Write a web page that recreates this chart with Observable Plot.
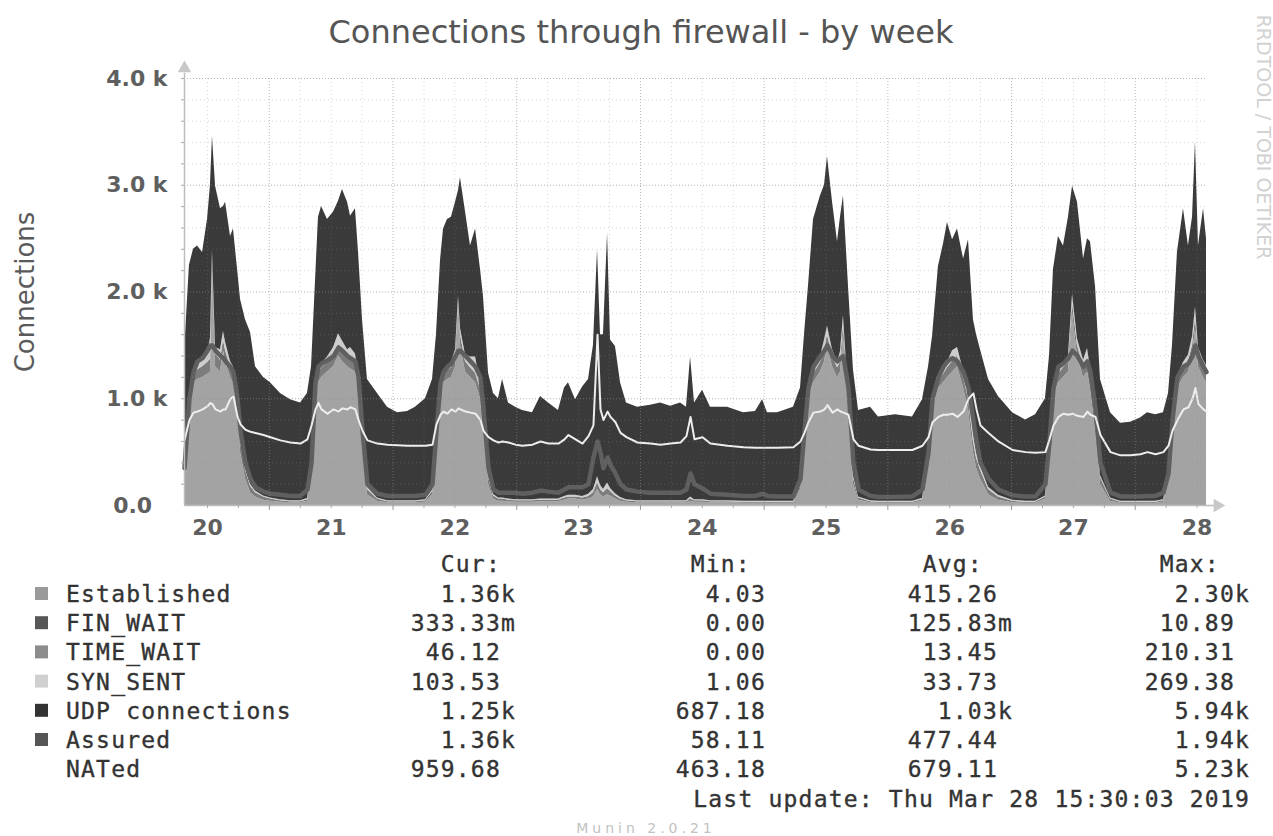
<!DOCTYPE html>
<html><head><meta charset="utf-8">
<script src="https://cdn.jsdelivr.net/npm/d3@7"></script>
<script src="https://cdn.jsdelivr.net/npm/@observablehq/plot@0.6"></script>
<style>
html,body{margin:0;padding:0;background:#fff;}
body{width:1273px;height:836px;position:relative;overflow:hidden;font-family:"DejaVu Sans",sans-serif;}
#chart{position:absolute;left:0;top:60px;}
#overlay{position:absolute;left:0;top:0;pointer-events:none;}
#chart g[aria-label="area"], #chart g[aria-label="line"]{filter:blur(0.6px);}
</style></head><body>
<div id="chart"></div>
<svg id="overlay" width="1273" height="836"></svg>
<script>
// time in days; integer = the day label position
const times = [19.814,19.854,19.887,19.919,19.960,20.000,20.024,20.040,20.065,20.105,
20.129,20.146,20.186,20.210,20.243,20.267,20.307,20.348,20.388,20.453,
20.509,20.590,20.671,20.752,20.808,20.841,20.873,20.897,20.922,20.970,
21.019,21.059,21.091,21.132,21.156,21.196,21.221,21.253,21.293,21.374,
21.455,21.536,21.617,21.681,21.762,21.819,21.851,21.884,21.908,21.940,
21.972,22.005,22.029,22.045,22.086,22.126,22.167,22.207,22.231,22.272,
22.312,22.352,22.385,22.433,22.490,22.546,22.627,22.692,22.757,22.837,
22.886,22.918,22.975,23.032,23.080,23.120,23.153,23.177,23.201,23.234,
23.258,23.298,23.339,23.387,23.476,23.581,23.662,23.743,23.824,23.872,
23.905,23.937,24.002,24.066,24.204,24.333,24.430,24.487,24.527,24.608,
24.737,24.794,24.826,24.858,24.899,24.955,24.988,25.012,25.053,25.093,
25.117,25.141,25.182,25.222,25.263,25.360,25.424,25.562,25.699,25.780,
25.829,25.861,25.909,25.950,25.982,26.023,26.063,26.112,26.152,26.192,
26.217,26.249,26.314,26.394,26.508,26.613,26.694,26.774,26.807,26.839,
26.879,26.920,26.960,26.993,27.033,27.082,27.114,27.138,27.179,27.219,
27.300,27.381,27.462,27.542,27.599,27.664,27.728,27.769,27.801,27.841,
27.890,27.930,27.963,27.987,28.011,28.052,28.076];

const established = [300,900,1150,1180,1200,1230,1250,2200,1300,1250,
1450,1350,1200,1150,900,500,250,120,80,50,
40,30,25,25,40,300,1000,1150,1200,1250,
1300,1400,1350,1300,1280,1250,1100,500,100,40,
25,25,25,25,30,100,600,1050,1150,1180,
1200,1300,1800,1500,1250,1200,1150,1000,700,200,
60,40,40,35,30,30,30,35,35,35,
50,60,60,50,60,80,150,100,80,100,
90,60,40,30,25,25,25,25,25,25,
40,30,30,25,25,20,20,20,20,20,
20,150,600,1000,1150,1250,1350,1500,1300,1200,
1250,1600,900,200,50,25,20,20,20,40,
400,900,1100,1150,1200,1250,1300,1100,900,500,
350,250,100,50,25,20,20,60,500,1000,
1150,1200,1250,1800,1400,1200,1250,1100,700,200,
40,20,20,20,20,20,30,200,700,1100,
1200,1250,1400,1650,1300,1200,1150];

const timeWait = [30,60,80,90,100,110,120,130,120,110,
100,100,100,100,100,90,80,60,40,30,
20,15,10,10,15,30,60,80,90,90,
100,110,110,100,100,90,90,80,50,20,
10,10,10,10,15,30,50,70,80,90,
90,100,100,100,100,90,90,90,80,60,
30,20,20,15,15,15,15,15,15,15,
20,20,20,20,25,40,60,50,40,60,
40,30,20,15,10,10,10,10,10,10,
20,15,15,10,10,10,10,10,10,10,
10,30,50,70,80,90,100,100,100,90,
90,100,90,60,20,10,10,10,10,15,
40,60,70,80,90,100,100,100,100,100,
90,80,50,30,15,10,10,20,40,60,
80,90,90,100,100,100,100,100,90,60,
20,10,10,10,10,10,15,30,50,70,
90,100,100,110,100,100,100];

const synSent = [20,30,40,50,60,80,200,60,60,100,
80,80,50,50,40,30,20,20,15,10,
10,10,10,10,10,20,30,40,40,50,
80,100,80,60,100,80,50,30,20,10,
10,10,10,10,10,15,20,30,40,40,
50,60,60,60,60,100,150,60,40,20,
15,10,10,10,10,10,10,10,10,10,
15,15,15,15,20,30,60,40,30,50,
30,20,15,10,10,10,10,10,10,10,
20,10,10,10,10,10,10,10,10,10,
10,15,20,30,40,50,100,80,60,50,
100,80,40,20,10,10,10,10,10,10,
20,30,40,40,50,100,80,60,150,80,
60,40,20,15,10,10,10,10,20,30,
40,50,60,80,60,60,120,80,40,20,
10,10,10,10,10,10,10,15,20,40,
50,60,80,100,80,60,60];

const udp = [1080,1260,1130,1110,1010,1260,1430,1070,1510,1320,
1170,1310,1170,1290,1170,1310,1390,1420,1165,1110,
1080,995,945,915,985,950,1010,1430,1470,1290,
1270,1240,1420,1380,1230,1360,1130,1130,1010,980,
875,825,835,875,945,1035,930,1150,1320,1370,
1360,1380,990,1410,1340,1040,1200,1060,1140,960,
945,930,1110,900,865,835,815,960,900,830,
1015,1055,895,1025,1075,1350,2130,1410,1450,2340,
1390,1380,1075,905,875,895,915,885,915,875,
1310,905,1025,875,875,830,840,950,830,830,
880,905,930,950,1410,1510,1450,1590,1380,1130,
1260,1120,1020,990,810,875,790,810,790,925,
840,590,1030,1180,1310,1040,1110,1050,1340,1060,
1100,1090,1010,925,820,760,810,910,840,1120,
1250,1090,1300,1010,1280,950,1030,1190,1220,900,
800,730,740,780,830,810,815,805,730,1160,
1440,1020,1120,1550,950,1420,1190];

const assured = [350,1000,1250,1350,1380,1450,1500,1500,1450,1400,
1380,1350,1300,1250,1000,700,400,250,170,130,
110,100,90,90,150,400,1150,1300,1330,1360,
1400,1480,1450,1400,1380,1350,1200,700,200,110,
90,90,90,90,100,200,700,1150,1250,1300,
1330,1400,1450,1450,1400,1350,1300,1200,900,350,
150,120,120,120,120,110,120,140,130,120,
150,170,170,170,200,450,600,500,350,450,
380,300,200,150,130,120,120,120,120,150,
300,200,160,110,100,90,90,110,90,85,
85,250,700,1100,1300,1400,1450,1500,1400,1350,
1380,1400,1100,400,150,90,80,80,85,150,
500,1000,1200,1300,1350,1380,1350,1250,1100,800,
600,400,250,150,95,85,85,200,600,1100,
1300,1330,1380,1450,1400,1300,1350,1250,900,400,
120,85,85,85,90,90,120,300,800,1200,
1300,1330,1400,1500,1400,1300,1250];

const nated = [610,800,870,880,900,930,960,950,900,880,
900,900,1000,1020,830,760,710,690,680,660,
640,610,590,580,620,750,900,960,900,860,
900,880,910,900,920,900,800,700,610,580,
570,565,560,560,560,570,760,850,880,860,
900,880,910,900,880,870,860,800,700,640,
610,590,600,590,570,560,570,600,580,580,
620,660,620,580,650,750,1600,900,800,880,
830,780,680,640,590,580,570,580,590,650,
830,620,640,580,560,545,540,540,540,540,
545,600,680,780,870,880,900,940,870,900,
880,870,850,620,560,525,520,520,520,560,
640,780,830,850,850,860,830,880,1000,1050,
900,750,680,600,520,500,495,500,620,750,
830,860,850,860,840,830,880,850,830,660,
500,470,470,480,500,480,500,560,700,800,
900,920,1000,1100,950,900,880];

const dayTicks = [20,21,22,23,24,25,26,27,28];
const yTicks = [0,1000,2000,3000,4000];

const legendNames = ["Established","FIN_WAIT","TIME_WAIT","SYN_SENT","UDP connections","Assured","NATed"];
const legendColors = ["#9a9a9a","#575757","#8c8c8c","#d0d0d0","#333333","#555555",null];
const curVals = ["1.36k","333.33m","46.12","103.53","1.25k","1.36k","959.68"];
const minVals = ["4.03","0.00","0.00","1.06","687.18","58.11","463.18"];
const avgVals = ["415.26","125.83m","13.45","33.73","1.03k","477.44","679.11"];
const maxVals = ["2.30k","10.89","210.31","269.38","5.94k","1.94k","5.23k"];
const headers = ["Cur:","Min:","Avg:","Max:"];
const lastUpdate = "Last update: Thu Mar 28 15:30:03 2019";

// ---------- chart ----------
const layers = [
  {name:"Established", values: established, color:"#a3a3a3"},
  {name:"TIME_WAIT", values: timeWait, color:"#7c7c7c"},
  {name:"SYN_SENT", values: synSent, color:"#cdcdcd"},
  {name:"UDP connections", values: udp, color:"#3a3a3a"}
];
const stackRows = layers.flatMap(l => times.map((t,i) => ({t, v: l.values[i], series: l.name})));
const assuredRows = times.map((t,i) => ({t, v: assured[i]}));
const natedRows = times.map((t,i) => ({t, v: nated[i]}));

const t0 = times[0], t1 = times[times.length-1];
const quarters = d3.range(19.75, 28.1, 0.25).filter(t => t >= t0 && t <= t1);
const midnights = quarters.filter(t => t - Math.floor(t) === 0.5);
const minorX = quarters.filter(t => t - Math.floor(t) !== 0.5);
const y200 = d3.range(200, 4001, 200);
const minorY = y200.filter(v => v % 1000 !== 0);
const majorY = yTicks.filter(v => v > 0);
const yFmt = v => v === 0 ? "0.0\u00a0\u00a0" : (v/1000).toFixed(1) + " k";

const chart = Plot.plot({
  width: 1273, height: 500,
  marginLeft: 184, marginRight: 67, marginTop: 18, marginBottom: 55,
  x: {domain: [t0, t1], axis: null},
  y: {domain: [0, 4000], axis: null},
  color: {domain: layers.map(l => l.name), range: layers.map(l => l.color)},
  style: {background: "transparent", fontFamily: "DejaVu Sans", overflow: "visible", color: "#5f5f5f"},
  marks: [
    Plot.areaY(stackRows, {x: "t", y: "v", fill: "series", z: "series", order: layers.map(l => l.name)}),
    Plot.lineY(assuredRows, {x: "t", y: "v", stroke: "#5f5f5f", strokeWidth: 4.5}),
    Plot.lineY(natedRows, {x: "t", y: "v", stroke: "#eeeeee", strokeWidth: 2}),
    Plot.ruleY(minorY, {stroke: "#8a8a8a", strokeOpacity: 0.35, strokeDasharray: "1,3"}),
    Plot.ruleY(majorY, {stroke: "#8a8a8a", strokeOpacity: 0.65, strokeDasharray: "1,2"}),
    Plot.ruleX(minorX, {stroke: "#8a8a8a", strokeOpacity: 0.35, strokeDasharray: "1,3"}),
    Plot.ruleX(midnights, {stroke: "#8a8a8a", strokeOpacity: 0.6, strokeDasharray: "1,2"}),
    // axis lines with arrows
    Plot.ruleY([0], {x1: t0, x2: 28.15, stroke: "#bdbdbd", strokeWidth: 1.5}),
    Plot.ruleX([t0], {y1: 0, y2: 4050, stroke: "#bdbdbd", strokeWidth: 1.5}),
    Plot.dot([{x: 28.165, y: 0}], {x: "x", y: "y", symbol: "triangle", r: 5, fill: "#c8c8c8", stroke: null, rotate: 90}),
    Plot.dot([{x: t0, y: 4095}], {x: "x", y: "y", symbol: "triangle", r: 5, fill: "#c8c8c8", stroke: null}),
    // small ticks
    Plot.axisY({ticks: y200, tickSize: 3, tickFormat: () => "", label: null, stroke: "#aaa"}),
    Plot.axisX({ticks: minorX, tickSize: 3, tickFormat: () => "", label: null, stroke: "#aaa"}),
    Plot.axisX({ticks: midnights, tickSize: 5, tickFormat: () => "", label: null, stroke: "#999"}),
    // labels
    Plot.axisY({ticks: yTicks, tickFormat: yFmt, tickSize: 0, tickPadding: 17, fontSize: 22, fontWeight: "bold", label: null}),
    Plot.axisX({ticks: dayTicks, tickFormat: d => String(d), tickSize: 0, tickPadding: 14, fontSize: 22, fontWeight: "bold", label: null}),
    Plot.text(["Connections"], {frameAnchor: "left", dx: -159, rotate: -90, textAnchor: "middle", fontSize: 26, fill: "#5a5a5a", fontWeight: "normal"})
  ]
});
document.getElementById("chart").appendChild(chart);

// ---------- overlay texts & legend ----------
const svg = d3.select("#overlay");
svg.append("text").attr("x", 641).attr("y", 43).attr("text-anchor", "middle")
  .attr("font-family", "DejaVu Sans").attr("font-size", 32).attr("fill", "#555")
  .text("Connections through firewall - by week");
svg.append("text").attr("transform", "translate(1262,137) rotate(90)")
  .attr("text-anchor", "middle").attr("dominant-baseline", "middle")
  .attr("font-family", "DejaVu Sans").attr("font-size", 19).attr("fill", "#d2d2d2")
  .text("RRDTOOL / TOBI OETIKER");
svg.append("text").attr("x", 646).attr("y", 833).attr("text-anchor", "middle")
  .attr("font-family", "DejaVu Sans").attr("font-size", 14).attr("letter-spacing", 4).attr("fill", "#c2c2c2")
  .text("Munin 2.0.21");

const mono = {family: "DejaVu Sans Mono", size: 23, ls: 1.2, fill: "#333"};
const colEnds = [516, 781, 1013, 1250];
const headGap = ["\u00a0", "\u00a0\u00a0", "\u00a0\u00a0", "\u00a0\u00a0"];
const pad = s => /[km]$/.test(s) ? s : s + "\u00a0";
function monoText(x, y, s, anchor) {
  return svg.append("text").attr("x", x).attr("y", y).attr("text-anchor", anchor || "start")
    .attr("font-family", mono.family).attr("font-size", mono.size).attr("letter-spacing", mono.ls)
    .attr("fill", mono.fill).attr("stroke", mono.fill).attr("stroke-width", 0.35)
    .attr("xml:space", "preserve").style("white-space", "pre").text(s);
}
headers.forEach((h, j) => monoText(colEnds[j], 572, h + headGap[j], "end"));
legendNames.forEach((name, i) => {
  const base = 602 + i * 29.2;
  if (legendColors[i]) {
    svg.append("rect").attr("x", 35).attr("y", base - 15).attr("width", 13).attr("height", 13)
      .attr("fill", legendColors[i]);
  }
  monoText(66, base, name);
  [curVals, minVals, avgVals, maxVals].forEach((arr, j) => monoText(colEnds[j], base, pad(arr[i]), "end"));
});
monoText(1250, 807, lastUpdate, "end");
</script>
</body></html>
